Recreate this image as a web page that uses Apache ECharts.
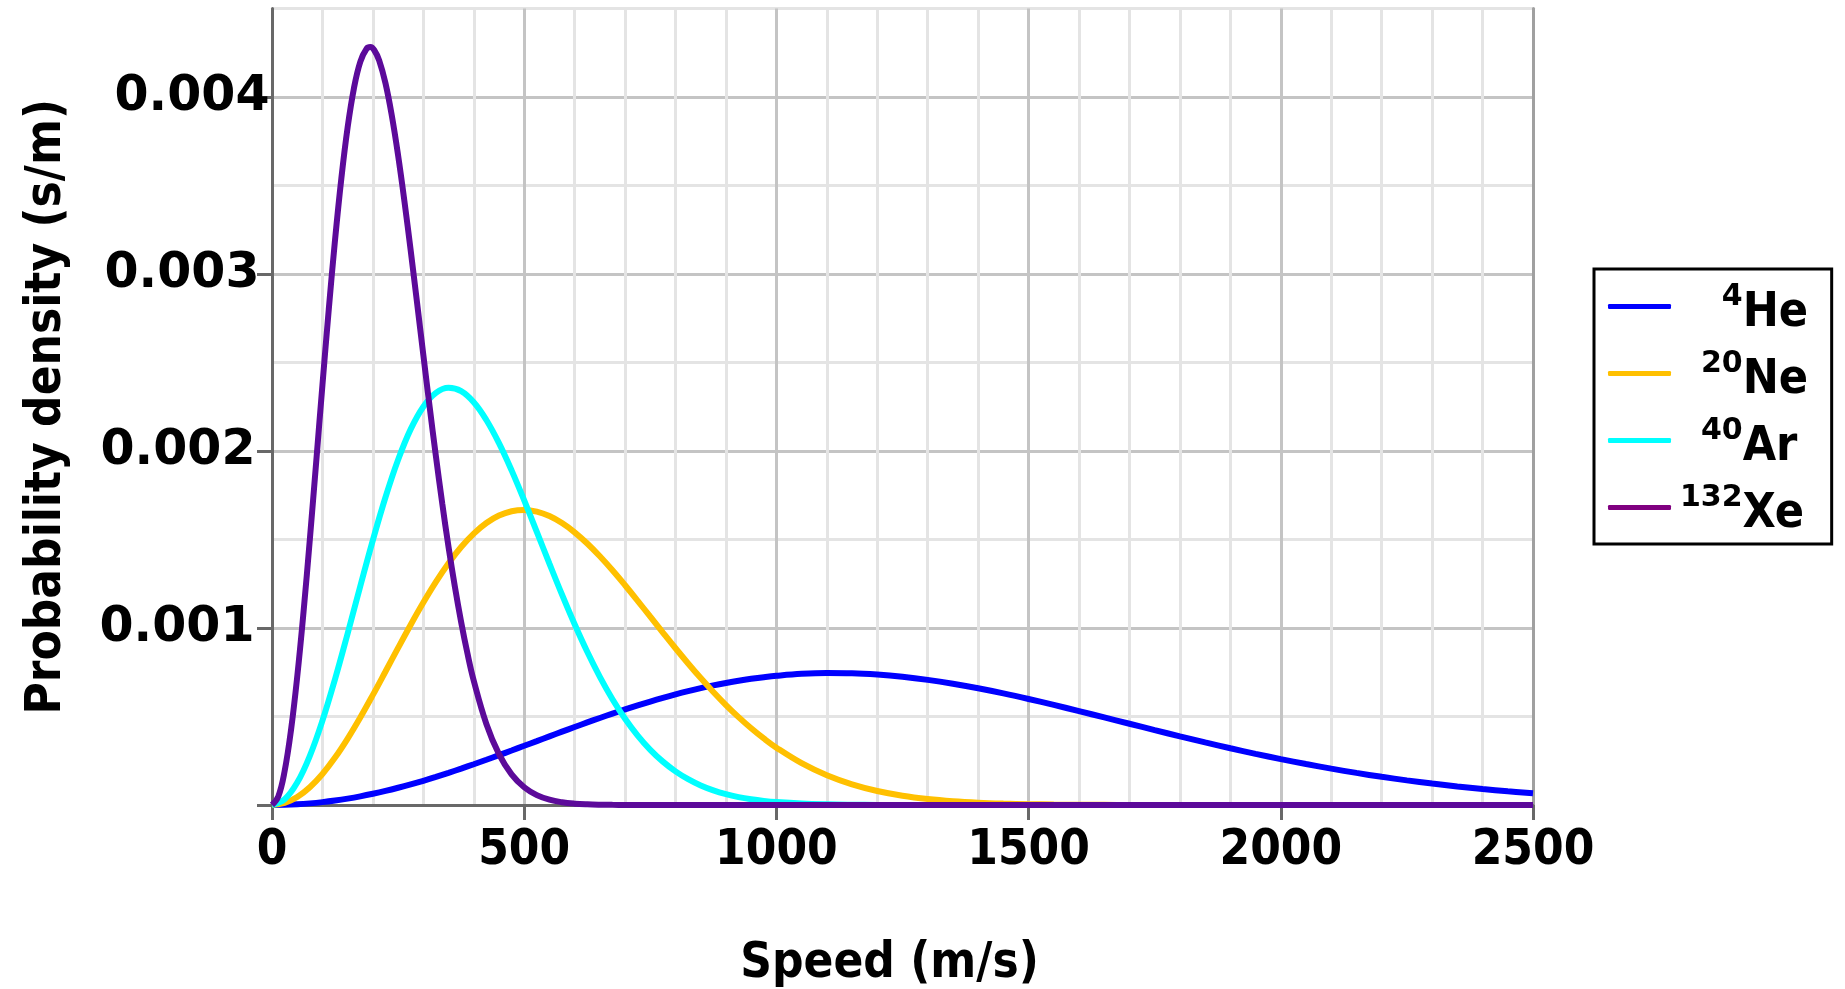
<!DOCTYPE html>
<html>
<head>
<meta charset="utf-8">
<script src="https://cdn.jsdelivr.net/npm/echarts@6/dist/echarts.min.js"></script>
<style>html,body{margin:0;padding:0;background:#fff}#c{width:1845px;height:989px}</style>
</head>
<body>
<div id="c"></div>
<script>
// Speeds (m/s) at which the He, Ne and Ar curves were read
const speeds = [0,25,50,75,100,125,150,175,200,225,250,275,300,325,350,375,400,425,450,475,500,525,550,575,600,625,650,675,700,725,750,775,800,825,850,875,900,925,950,975,1000,
  1050,1100,1150,1200,1250,1300,1350,1400,1450,1500,1550,1600,1650,1700,1750,1800,1850,1900,1950,2000,2050,2100,2150,2200,2250,2300,2350,2400,2450,2500];

// Speeds (m/s) at which the narrow Xe curve was read
const xeSpeeds = [0,12.5,25,37.5,50,62.5,75,87.5,100,112.5,125,137.5,150,162.5,175,187.5,195,202.5,212.5,225,237.5,250,262.5,275,287.5,300,312.5,325,337.5,350,362.5,375,387.5,400,
  425,450,475,500,525,550,575,600,625,650,675,700,725,750,800,900,1000,1500,2000,2500];

// Probability density (s/m)
const heValues = [0,0.0000010,0.0000041,0.0000092,0.0000162,0.0000253,0.0000362,0.0000489,0.0000634,0.0000795,0.0000973,0.0001165,0.0001370,0.0001588,0.0001816,0.0002055,0.0002302,0.0002555,0.0002815,0.0003078,0.0003344,0.0003611,0.0003879,0.0004144,0.0004406,0.0004665,0.0004917,0.0005163,0.0005400,0.0005628,0.0005847,0.0006054,0.0006249,0.0006431,0.0006600,0.0006755,0.0006894,0.0007020,0.0007129,0.0007223,0.0007301,
  0.0007411,0.0007457,0.0007443,0.0007370,0.0007245,0.0007070,0.0006851,0.0006593,0.0006304,0.0005989,0.0005654,0.0005306,0.0004949,0.0004590,0.0004231,0.0003879,0.0003536,0.0003206,0.0002890,0.0002592,0.0002313,0.0002053,0.0001813,0.0001592,0.0001392,0.0001210,0.0001047,0.0000902,0.0000773,0.0000659];

const neValues = [0,0.0000114,0.0000452,0.0001005,0.0001755,0.0002681,0.0003755,0.0004946,0.0006220,0.0007542,0.0008877,0.0010187,0.0011440,0.0012607,0.0013659,0.0014575,0.0015336,0.0015932,0.0016354,0.0016599,0.0016670,0.0016576,0.0016323,0.0015927,0.0015406,0.0014774,0.0014051,0.0013260,0.0012415,0.0011536,0.0010638,0.0009741,0.0008856,0.0007997,0.0007169,0.0006384,0.0005647,0.0004963,0.0004333,0.0003758,0.0003240,
  0.0002363,0.0001682,0.0001168,0.0000792,0.0000524,0.0000339,0.0000214,0.0000132,0.0000080,0.0000047,0.0000027,0.0000015,0.0000008,0.0000004,0.0000002,0.0000001,0,0,0,0,0,0,0,0,0,0,0,0,0,0];

const arValues = [0,0.0000321,0.0001266,0.0002777,0.0004766,0.0007116,0.0009694,0.0012359,0.0014966,0.0017388,0.0019507,0.0021234,0.0022504,0.0023284,0.0023570,0.0023381,0.0022755,0.0021753,0.0020445,0.0018906,0.0017209,0.0015432,0.0013638,0.0011882,0.0010210,0.0008655,0.0007241,0.0005977,0.0004873,0.0003922,0.0003118,0.0002449,0.0001900,0.0001457,0.0001103,0.0000825,0.0000610,0.0000446,0.0000323,0.0000230,0.0000163,
  0.0000079,0.0000036,0.0000016,0.0000007,0.0000003,0.0000001,0,0,0,0,0,0,0,0,0,0,0,0,0,0,0,0,0,0,0,0,0,0,0,0];

const xeValues = [0,0.0000482,0.0001904,0.0004195,0.0007243,0.0010903,0.0014997,0.0019340,0.0023733,0.0027987,0.0031930,0.0035405,0.0038294,0.0040505,0.0041989,0.0042729,0.0042818,0.0042654,0.0042062,0.0040775,0.0038951,0.0036701,0.0034123,0.0031319,0.0028396,0.0025425,0.0022506,0.0019695,0.0017037,0.0014577,0.0012339,0.0010333,0.0008562,0.0007023,
  0.0004581,0.0002871,0.0001728,0.0001001,0.0000558,0.0000299,0.0000155,0.0000077,0.0000037,0.0000017,0.0000008,0.0000003,0.0000001,0,0,0,0,0,0,0];

const seriesNames = ['4He','20Ne','40Ar','132Xe'];
const massNumbers = ['4','20','40','132'];
const elementSymbols = ['He','Ne','Ar','Xe'];

const xTickValues = [0,500,1000,1500,2000,2500];
const yTickValues = [0,0.001,0.002,0.003,0.004];
const yLabelValues = [0.001,0.002,0.003,0.004];
const yLabelTexts = ['0.001','0.002','0.003','0.004'];

const lineColors = ['#0000ff','#ffc000','#00ffff','#5c0a9a'];
const legendColors = ['#0000ff','#ffc000','#00ffff','#800080'];

const speedSets = [speeds, speeds, speeds, xeSpeeds];
const valueSets = [heValues, neValues, arValues, xeValues];

const COND = "'DejaVu Sans Condensed', 'DejaVu Sans', sans-serif";
const WIDE = "'DejaVu Sans', sans-serif";
const MAJOR = '#c4c4c4';
const MINOR = '#e4e4e4';
const AXIS = '#686868';

const DIGIT = 20.9;
const supBase = { fontFamily: WIDE, fontWeight: 'bold', fontSize: 30, lineHeight: 32, color: '#000' };
const yLab = { fontFamily: WIDE, fontWeight: 'bold', fontSize: 49, color: '#000' };

const chart = echarts.init(document.getElementById('c'), null, {renderer: 'canvas'});

const option = {
  animation: false,
  backgroundColor: '#ffffff',
  grid: { left: 272, right: 312, top: 8.5, bottom: 184, containLabel: false, outerBoundsMode: 'none' },
  xAxis: [{
    type: 'value', min: 0, max: 2500, interval: 500,
    name: 'Speed (m/s)', nameLocation: 'middle', nameGap: 135,
    nameTextStyle: { fontFamily: COND, fontWeight: 'bold', fontSize: 49, color: '#000', padding: [0, 26, 0, 0] },
    axisLine: { show: true, onZero: false, lineStyle: { color: AXIS, width: 3 } },
    axisTick: { show: true, length: 15, lineStyle: { color: AXIS, width: 3 } },
    axisLabel: { show: true, margin: 22, customValues: xTickValues, formatter: v => String(v),
      fontFamily: COND, fontWeight: 'bold', fontSize: 49, color: '#000' },
    splitLine: { show: true, showMinLine: false, lineStyle: { color: MAJOR, width: 3 } },
    minorTick: { show: false, splitNumber: 5 },
    minorSplitLine: { show: true, lineStyle: { color: MINOR, width: 3 } }
  }],
  yAxis: [{
    type: 'value', min: 0, max: 0.0045, interval: 0.0005, position: 'left',
    name: 'Probability density (s/m)', nameLocation: 'middle', nameGap: 200, nameRotate: 90,
    nameTextStyle: { fontFamily: COND, fontWeight: 'bold', fontSize: 49, color: '#000' },
    axisLine: { show: true, onZero: false, lineStyle: { color: AXIS, width: 3 } },
    axisTick: { show: false },
    axisLabel: { show: true, margin: 2, customValues: yLabelValues,
      formatter: function (v) {
        let i = 0, best = Infinity;
        yLabelValues.forEach((t, k) => { const d = Math.abs(t - v); if (d < best) { best = d; i = k; } });
        return '{r' + i + '|' + yLabelTexts[i] + '}';
      },
      fontFamily: WIDE, fontWeight: 'bold', fontSize: 49, color: '#000',
      rich: {
        r0: Object.assign({}, yLab, { padding: [0, 15.5, 0, 0] }),
        r1: Object.assign({}, yLab, { padding: [0, 14.5, 0, 0] }),
        r2: Object.assign({}, yLab, { padding: [0, 10.5, 0, 0] }),
        r3: Object.assign({}, yLab, { padding: [0, 0.5, 0, 0] })
      }
    },
    splitLine: { show: true, lineStyle: { color: [MAJOR, MINOR], width: 3 } }
  }, {
    type: 'value', min: 0, max: 0.0045, position: 'left', offset: 0,
    axisLine: { show: false },
    axisTick: { show: true, length: 15, customValues: yTickValues, lineStyle: { color: AXIS, width: 3 } },
    axisLabel: { show: false },
    splitLine: { show: false }
  }, {
    type: 'value', min: 0, max: 0.0045, position: 'right', offset: 0,
    axisLine: { show: true, onZero: false, lineStyle: { color: '#a0a0a0', width: 3 } },
    axisTick: { show: false },
    axisLabel: { show: false },
    splitLine: { show: false }
  }],
  legend: {
    orient: 'vertical', left: 1594, top: 269, padding: [6, 17, 5, 14],
    borderColor: '#000', borderWidth: 3, backgroundColor: '#fff',
    itemWidth: 63, itemHeight: 5, itemGap: 4, icon: 'roundRect',
    selectedMode: false,
    data: seriesNames.map((n, i) => ({ name: n, itemStyle: { color: legendColors[i] } })),
    formatter: function (name) {
      const i = seriesNames.indexOf(name);
      return '{sup' + massNumbers[i].length + '|' + massNumbers[i] + '}{main|' + elementSymbols[i] + '}';
    },
    textStyle: {
      color: '#000',
      rich: {
        sup1: Object.assign({}, supBase, { padding: [0, 0, 18, 4 + 2 * DIGIT] }),
        sup2: Object.assign({}, supBase, { padding: [0, 0, 18, 4 + DIGIT] }),
        sup3: Object.assign({}, supBase, { padding: [0, 0, 18, 4] }),
        main: { fontFamily: COND, fontWeight: 'bold', fontSize: 48, lineHeight: 50, width: 72,
          padding: [15, 0, 0, 0], color: '#000' }
      }
    }
  },
  series: seriesNames.map((n, i) => ({
    name: n, type: 'line', xAxisIndex: 0, yAxisIndex: 0,
    data: speedSets[i].map((s, j) => [s, valueSets[i][j]]),
    showSymbol: false, symbol: 'none', smooth: 0.4, silent: true,
    lineStyle: { width: 6, color: lineColors[i] },
    itemStyle: { color: lineColors[i] },
    z: 2 + i
  }))
};
chart.setOption(option);
</script>
</body>
</html>
